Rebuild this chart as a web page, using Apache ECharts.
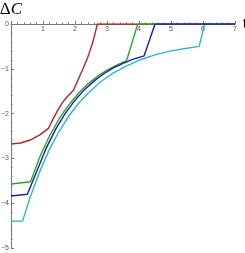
<!DOCTYPE html>
<html>
<head>
<meta charset="utf-8">
<script src="https://cdn.jsdelivr.net/npm/echarts@6/dist/echarts.min.js"></script>
<style>html,body{margin:0;padding:0;background:#fff}#c{width:245px;height:253px}</style>
</head>
<body>
<div id="c"></div>
<script>
// Data: [t, ΔC]
const redPts = [[0,-2.68],[0.3,-2.657],[0.6,-2.59],[0.9,-2.475],[1.17,-2.33],[1.3,-2.14],[1.45,-1.94],[1.6,-1.76],[1.75,-1.63],[1.95,-1.48],[2.1,-1.24],[2.25,-1.0],[2.4,-0.74],[2.55,-0.42],[2.7,0],[7,0]];
const greenPts = [[0,-3.57],[0.61,-3.52],[0.9,-2.97],[1.2,-2.5],[1.5,-2.12],[1.8,-1.81],[2.1,-1.55],[2.4,-1.34],[2.7,-1.17],[3.0,-1.03],[3.3,-0.92],[3.61,-0.82],[3.96,0],[7,0]];
const bluePts = [[0,-3.84],[0.51,-3.80],[0.8,-3.30],[1.1,-2.77],[1.4,-2.34],[1.7,-1.99],[2.0,-1.70],[2.3,-1.46],[2.6,-1.27],[2.9,-1.11],[3.2,-0.98],[3.5,-0.88],[3.8,-0.79],[4.16,-0.71],[4.5,0],[7,0]];
const cyanPts = [[0,-4.40],[0.36,-4.40],[0.6,-3.86],[0.9,-3.29],[1.2,-2.80],[1.5,-2.40],[1.8,-2.06],[2.1,-1.78],[2.4,-1.55],[2.8,-1.29],[3.2,-1.09],[3.6,-0.94],[4.0,-0.81],[4.5,-0.69],[5.0,-0.60],[5.5,-0.54],[5.88,-0.50],[6.05,0],[7,0]];
const xTicks = [0,1,2,3,4,5,6,7];
const yTicks = [0,-1,-2,-3,-4,-5];

const chart = echarts.init(document.getElementById('c'), null, {renderer:'canvas'});
const axisCol = '#777';
const labelStyle = {color:'#555', fontSize:7, fontFamily:'Liberation Sans'};
function mk(name, pts, color){
  return {name, type:'line', data:pts, showSymbol:false, symbol:'none', animation:false,
    lineStyle:{color, width:1.4}, itemStyle:{color}};
}
chart.setOption({
  animation:false,
  grid:{left:11, right:10, top:24, bottom:5, containLabel:false, outerBoundsMode:'none'},
  xAxis:{type:'value', min:xTicks[0], max:xTicks[xTicks.length-1], interval:1, position:'top',
    name:'t', nameLocation:'end', nameGap:2,
    nameTextStyle:{fontFamily:'Liberation Serif', fontSize:17, color:'#000', align:'left', verticalAlign:'middle', padding:[0,0,4,0]},
    axisLine:{show:true, onZero:false, lineStyle:{color:axisCol, width:1}},
    axisTick:{show:true, inside:false, length:3, lineStyle:{color:axisCol}},
    minorTick:{show:true, splitNumber:5, length:1.5, lineStyle:{color:axisCol}},
    axisLabel:Object.assign({inside:true, margin:2, formatter:v=> v===0 ? '' : String(v)}, labelStyle),
    splitLine:{show:false}},
  yAxis:{type:'value', min:yTicks[yTicks.length-1], max:yTicks[0], interval:1, position:'left',
    name:'{d|Δ}{c|C}', nameLocation:'end', nameGap:6,
    nameTextStyle:{rich:{d:{fontFamily:'Liberation Serif', fontSize:17, color:'#000'}, c:{fontFamily:'Liberation Serif', fontSize:17, fontStyle:'italic', color:'#000'}}},
    axisLine:{show:true, onZero:false, lineStyle:{color:axisCol, width:1}},
    axisTick:{show:true, inside:true, length:3, lineStyle:{color:axisCol}},
    minorTick:{show:true, splitNumber:5, length:1.5, lineStyle:{color:axisCol}},
    axisLabel:Object.assign({margin:2, formatter:v=> v<0 ? '−'+Math.abs(v) : String(v)}, labelStyle),
    splitLine:{show:false}},
  series:[
    mk('cyan', cyanPts, '#2fb8c0'),
    mk('red', redPts, '#b8222a'),
    mk('green', greenPts, '#2aa82a'),
    mk('blue', bluePts, '#1c1cb4')
  ]
});
</script>
</body>
</html>
